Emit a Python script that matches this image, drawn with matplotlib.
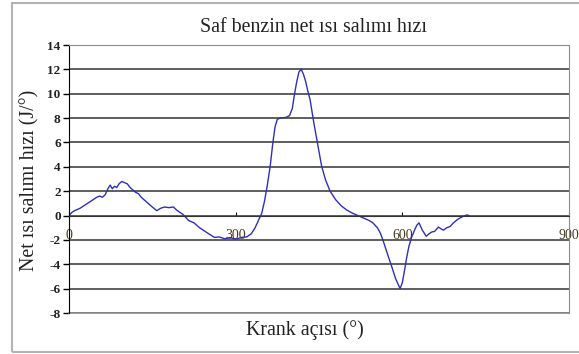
import matplotlib.pyplot as plt
from matplotlib.patches import Rectangle

plt.rcParams['font.family'] = ['Liberation Serif', 'DejaVu Serif']

# crank angle (deg) and net heat release rate (J/deg)
krank = [0, 5, 10, 20, 30, 40, 50, 55, 60, 65, 70, 74, 78, 82, 86, 90, 95, 100,
         105, 110, 115, 120, 125, 130, 140, 150, 158, 165, 172, 180, 188, 195,
         205, 215, 225, 235, 245, 255, 262, 270, 280, 290, 300, 310, 320, 328,
         335, 342, 347, 352, 357, 362, 367, 371, 375, 380, 390, 397, 402, 406,
         410, 414, 418, 422, 426, 430, 434, 440, 447, 455, 462, 470, 480, 490,
         500, 510, 520, 530, 540, 547, 555, 560, 565, 570, 575, 581, 588, 596,
         600, 604, 608, 612, 617, 622, 626, 630, 636, 643, 648, 653, 658, 665,
         670, 674, 680, 686, 692, 700, 708, 716, 720]
isi = [0.0, 0.25, 0.4, 0.6, 0.9, 1.2, 1.5, 1.6, 1.5, 1.7, 2.2, 2.5, 2.2, 2.4,
       2.3, 2.6, 2.8, 2.7, 2.6, 2.3, 2.1, 1.9, 1.8, 1.5, 1.1, 0.7, 0.4, 0.6,
       0.7, 0.65, 0.7, 0.4, 0.1, -0.4, -0.6, -1.0, -1.3, -1.6, -1.8, -1.75,
       -1.9, -1.8, -1.95, -1.8, -1.75, -1.5, -1.0, -0.3, 0.2, 1.2, 2.5, 4.0,
       6.0, 7.3, 7.9, 8.0, 8.05, 8.2, 8.8, 10.0, 11.0, 11.8, 12.0, 11.6, 11.0,
       10.2, 9.5, 7.8, 6.0, 4.0, 2.9, 2.0, 1.3, 0.8, 0.45, 0.2, 0.0, -0.2,
       -0.4, -0.6, -1.0, -1.4, -2.0, -2.7, -3.4, -4.2, -5.2, -6.0, -5.5, -4.5,
       -3.4, -2.5, -1.75, -1.2, -0.8, -0.6, -1.2, -1.7, -1.5, -1.35, -1.3,
       -0.95, -1.1, -1.2, -1.0, -0.9, -0.6, -0.3, -0.1, 0.05, 0.0]

xticks = [0, 300, 600, 900]
yticks = list(range(-8, 15, 2))

fig = plt.figure(figsize=(5.79, 3.54), dpi=100)
# outer chart border
fig.patches.append(Rectangle((12 / 579, 2 / 354), 1.0, 349 / 354,
                             transform=fig.transFigure, fill=False,
                             edgecolor='#b4b4b4', linewidth=1.5))

ax = fig.add_axes([69 / 579, 41 / 354, 500 / 579, 268 / 354])
ax.plot(krank, isi, color='#3030b0', linewidth=1.0)

ax.set_xlim(0, 900)
ax.set_ylim(-8, 14)
ax.set_yticks(yticks)
ax.set_yticklabels([str(v) for v in yticks], fontsize=9.5, fontweight='bold',
                   color='#222222')
ax.yaxis.grid(True, color='#333333', linewidth=1.1)
ax.set_axisbelow(True)

# x axis crosses at zero
ax.spines['bottom'].set_position(('data', 0))
ax.spines['bottom'].set_color('#333333')
ax.set_xticks(xticks)
ax.set_xticklabels([str(v) for v in xticks], fontsize=10, color='#4a3818')
ax.tick_params(axis='x', direction='in', length=3, pad=10)
ax.tick_params(axis='y', direction='out', length=4, width=1, pad=2)

for side in ['top', 'right']:
    ax.spines[side].set_color('#8c8c8c')
ax.spines['left'].set_color('black')
# bottom frame line of the plot area
ax.axhline(-8, color='#8c8c8c', linewidth=1.2, clip_on=False)

fig.text(313 / 579, 1 - 27 / 354, 'Saf benzin net ısı salımı hızı',
         ha='center', va='center', fontsize=14.3, color='#222222')
fig.text(305 / 579, 1 - 330 / 354, 'Krank açısı (°)',
         ha='center', va='center', fontsize=14.3, color='#222222')
fig.text(30 / 579, 1 - 180 / 354, 'Net ısı salımı hızı (J/°)',
         ha='center', va='center', rotation=90, fontsize=14.3, color='#222222')

fig.savefig('out.png', dpi=100)
